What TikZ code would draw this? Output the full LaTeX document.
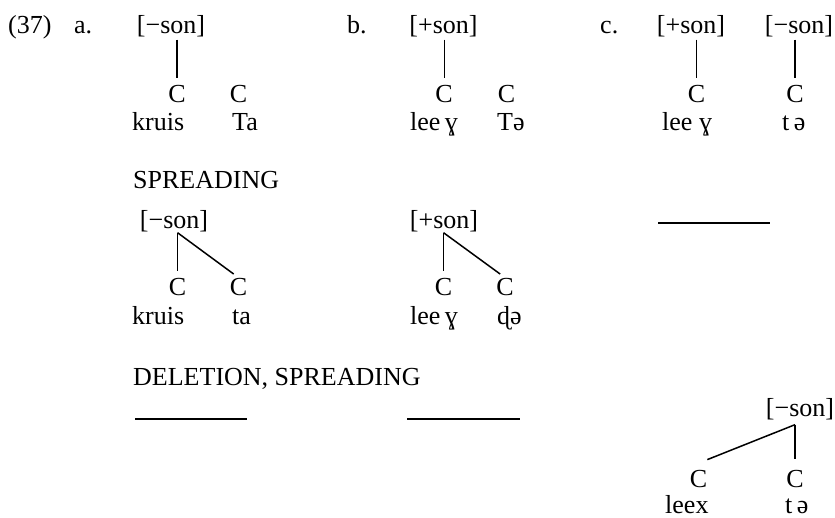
\documentclass[tikz,border=0pt]{standalone}
\usepackage{fontspec}
\setmainfont{Liberation Serif}
\usetikzlibrary{calc}
\begin{document}
\begin{tikzpicture}[x=1pt,y=-1pt,
  lbl/.style={inner sep=0pt, anchor=base, font=\fontsize{26}{30}\selectfont},
  lblw/.style={lbl, anchor=base west},
  assoc/.style={line width=1.5pt},
  blank/.style={line width=1.5pt},
]
\useasboundingbox (0,0) rectangle (835,517);

% ---- input forms ----
\node[lblw] (num) at (8,33) {(37)};
\node[lblw] (la) at (74,33) {a.};
\node[lblw] (lb) at (347,33) {b.};
\node[lblw] (lc) at (600,33) {c.};

% (a)
\node[lbl] (fa) at (171,33) {[−son]};
\node[lbl] (ca1) at (177,102) {C};
\node[lbl] (ca2) at (238.5,102) {C};
\node[lblw] (wa1) at (132,130) {kruis};
\node[lblw] (wa2) at (232,130) {Ta};
\draw[assoc, shorten <=3pt, shorten >=7pt] (ca1.north |- fa.south) -- (ca1.north);

% (b)
\node[lbl] (fb) at (443.5,33) {[+son]};
\node[lbl] (cb1) at (444,102) {C};
\node[lbl] (cb2) at (506.5,102) {C};
\node[lblw] (wb1) at (410,130) {lee\,ɣ};
\node[lblw] (wb2) at (497,130) {Tə};
\draw[line width=1pt, shorten <=3pt, shorten >=7pt] (cb1.north |- fb.south) -- (cb1.north);

% (c)
\node[lbl] (fc1) at (691,33) {[+son]};
\node[lbl] (fc2) at (799,33) {[−son]};
\node[lbl] (cc1) at (696.5,102) {C};
\node[lbl] (cc2) at (795,102) {C};
\node[lblw] (wc1) at (662,130) {lee ɣ};
\node[lblw] (wc2) at (782,130) {t\,ə};
\draw[assoc, shorten <=3pt, shorten >=7pt] (cc1.north |- fc1.south) -- (cc1.north);
\draw[assoc, shorten <=3pt, shorten >=7pt] (cc2.north |- fc2.south) -- (cc2.north);

% ---- spreading ----
\node[lblw] (spr) at (133,188) {SPREADING};

% (a)
\node[lbl] (ga) at (174,228) {[−son]};
\node[lbl] (da1) at (177.5,295) {C};
\node[lbl] (da2) at (238.5,295) {C};
\node[lblw] (va1) at (132,324) {kruis};
\node[lblw] (va2) at (232,324) {ta};
\coordinate (pa) at ($(da1.north |- ga.south)+(0,1)$);
\draw[assoc, shorten >=7pt] (pa) -- (da1.north);
\draw[assoc, shorten >=6pt] (pa) -- (da2.north);

% (b)
\node[lbl] (gb) at (444,228) {[+son]};
\node[lbl] (db1) at (443.5,295) {C};
\node[lbl] (db2) at (505,295) {C};
\node[lblw] (vb1) at (410,324) {lee\,ɣ};
\node[lblw] (vb2) at (497,324) {ɖə};
\coordinate (pb) at ($(db1.north |- gb.south)+(0,1)$);
\draw[assoc, shorten >=7pt] (pb) -- (db1.north);
\draw[assoc, shorten >=6pt] (pb) -- (db2.north);

% (c)
\coordinate (sc1) at (658,223);
\coordinate (sc2) at (770,223);
\draw[blank] (sc1) -- (sc2);

% ---- deletion, spreading ----
\node[lblw] (del) at (133,385) {DELETION, SPREADING};
\coordinate (ta1) at (135,419);
\coordinate (ta2) at (247,419);
\draw[blank] (ta1) -- (ta2);
\coordinate (tb1) at (407,419);
\coordinate (tb2) at (520,419);
\draw[blank] (tb1) -- (tb2);

% (c)
\node[lbl] (hc) at (800,416) {[−son]};
\node[lbl] (ec1) at (698.5,487) {C};
\node[lbl] (ec2) at (795,487) {C};
\node[lblw] (uc1) at (665,513) {leex};
\node[lblw] (uc2) at (785,513) {t\,ə};
\coordinate (pc) at ($(ec2.north |- hc.south)+(0,5)$);
\draw[assoc, shorten >=11pt] (pc) -- (ec2.north);
\draw[assoc] (pc) -- ($(ec1.north east)+(0,-10)$);

\end{tikzpicture}
\end{document}
